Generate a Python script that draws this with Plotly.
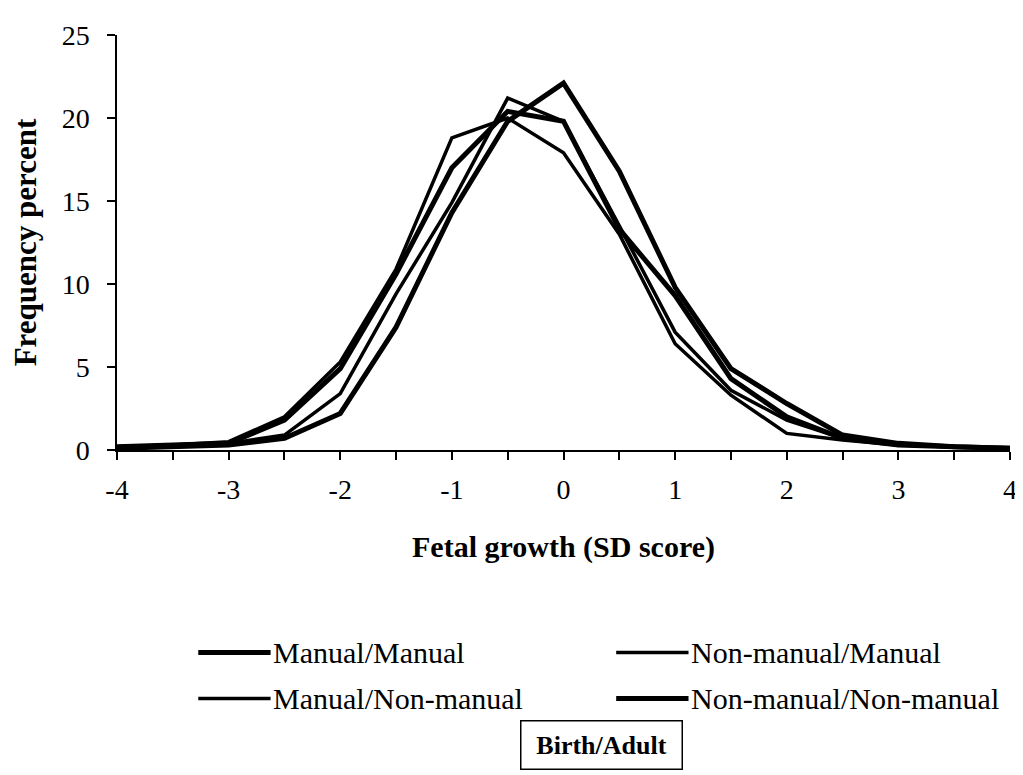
import plotly.graph_objects as go

# SD score bins
sd_score = [-4, -3.5, -3, -2.5, -2, -1.5, -1, -0.5, 0, 0.5, 1, 1.5, 2, 2.5, 3, 3.5, 4]

# frequency percent per group (Birth/Adult)
manual_manual = [0.1, 0.2, 0.3, 0.7, 2.2, 7.4, 14.3, 19.8, 22.1, 16.8, 9.8, 4.9, 2.8, 0.9, 0.4, 0.2, 0.1]
nonmanual_manual = [0.2, 0.3, 0.4, 0.9, 3.4, 9.4, 14.9, 21.2, 19.8, 13.5, 7.1, 3.6, 1.8, 0.7, 0.3, 0.2, 0.1]
manual_nonmanual = [0.2, 0.3, 0.5, 2.0, 5.3, 10.9, 18.8, 20.0, 17.9, 13.0, 6.4, 3.3, 1.0, 0.6, 0.3, 0.2, 0.1]
nonmanual_nonmanual = [0.2, 0.3, 0.4, 1.8, 4.9, 10.6, 17.0, 20.4, 19.8, 13.3, 9.3, 4.3, 2.0, 0.7, 0.3, 0.2, 0.1]

x_ticks = [-4, -3, -2, -1, 0, 1, 2, 3, 4]
x_ticktext = ["-4", "-3", "-2", "-1", "0", "1", "2", "3", "4"]

FONT = "Liberation Serif, Times New Roman, serif"

series = [
    ("Manual/Manual", manual_manual, 5),
    ("Non-manual/Manual", nonmanual_manual, 3.5),
    ("Manual/Non-manual", manual_nonmanual, 3.5),
    ("Non-manual/Non-manual", nonmanual_nonmanual, 5),
]

fig = go.Figure()

for name, vals, w in series:
    fig.add_trace(go.Scatter(
        x=sd_score, y=vals, mode="lines", name=name,
        line=dict(color="black", width=w),
        showlegend=False,
    ))

# hand-drawn legend below the plot (long line samples like the original)
legend_pos = [(0.091, -0.488), (0.559, -0.488), (0.091, -0.599), (0.559, -0.599)]
for (name, _, w), (lx, ly) in zip(series, legend_pos):
    fig.add_shape(type="line", xref="paper", yref="paper",
                  x0=lx, x1=lx + 0.081, y0=ly, y1=ly,
                  line=dict(color="black", width=w))
    fig.add_annotation(xref="paper", yref="paper", x=lx + 0.082, y=ly,
                       text=name, showarrow=False, xanchor="left", yanchor="middle",
                       font=dict(family=FONT, size=30, color="black"))

fig.add_annotation(xref="paper", yref="paper", x=0.542, y=-0.71,
                   text="<b>Birth/Adult</b>", showarrow=False,
                   xanchor="center", yanchor="middle", width=142,
                   font=dict(family=FONT, size=26, color="black"),
                   bordercolor="black", borderwidth=1.5, borderpad=9,
                   bgcolor="white")

fig.update_layout(
    width=1023, height=775,
    margin=dict(l=100, r=21, t=16, b=333),
    plot_bgcolor="white", paper_bgcolor="white",
    font=dict(family=FONT, size=28, color="black"),
    xaxis=dict(
        range=[-4, 4], tickvals=x_ticks, ticktext=x_ticktext,
        ticks="outside", ticklen=8, tickwidth=1.5, tickcolor="black",
        ticklabelstandoff=6,
        minor=dict(dtick=0.5, ticks="outside", ticklen=8, tickwidth=1.5, tickcolor="black"),
        showline=True, linecolor="black", linewidth=1.5,
        showgrid=False, zeroline=False,
        title=dict(text="<b>Fetal growth (SD score)</b>", font=dict(size=30), standoff=32),
    ),
    yaxis=dict(
        range=[0, 25], dtick=5,
        ticks="outside", ticklen=8, tickwidth=1.5, tickcolor="black",
        ticklabelstandoff=12,
        showline=True, linecolor="black", linewidth=1.5,
        showgrid=False, zeroline=False,
        title=dict(text="<b>Frequency percent</b>", font=dict(size=31), standoff=20),
    ),
)

fig.write_html("out.html")
